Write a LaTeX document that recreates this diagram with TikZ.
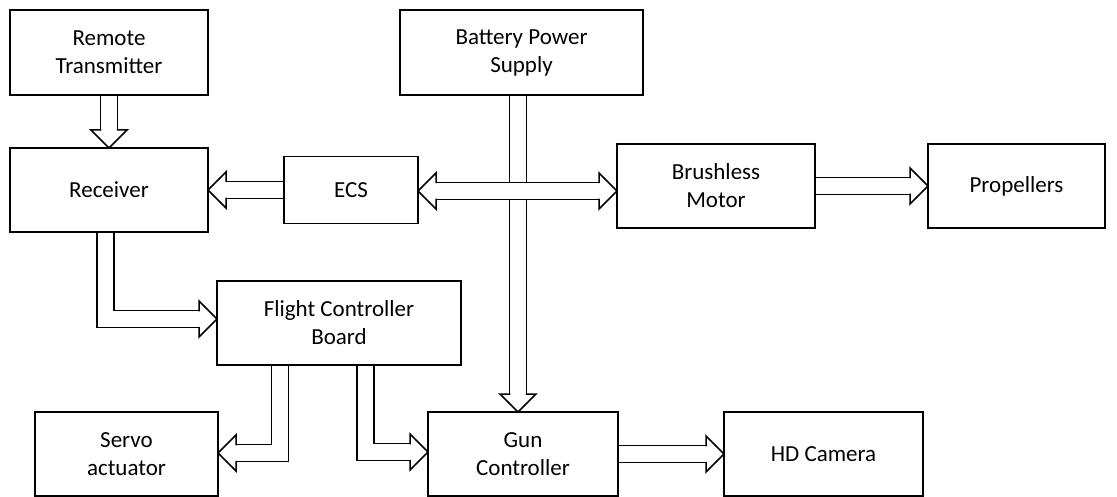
\documentclass[tikz,border=0pt]{standalone}
\usepackage{fontspec}
\setmainfont{Carlito}
\usepackage{tikz}
\usetikzlibrary{calc, backgrounds}

% hollow block arrows
\newcommand{\hlen}{18pt}
\newcommand{\blockshaft}[1]{%
  \draw[line width=18.5pt, line join=miter] #1;
  \draw[line width=15.5pt, white, line join=miter] #1;}
\newcommand{\blockhead}[2]{%
  \draw[fill=white, line width=1.5pt, line join=miter, shift={#1}, rotate=#2]
    (-\hlen,7.75pt) -- (-\hlen,18pt) -- (0,0) -- (-\hlen,-18pt) -- (-\hlen,-7.75pt);}

\begin{document}
\begin{tikzpicture}[
        x=1pt, y=1pt,
        box/.style={draw, line width=1.5pt, fill=white, rectangle, align=center, minimum height=84pt, inner sep=2pt, outer sep=0pt, font=\fontsize{23}{28}\selectfont}
    ]
        \useasboundingbox (0,0) rectangle (1117,-497);

        % Top row
        \node[box, minimum width=198pt, minimum height=85pt] (rt) at (109,-52.5) {Remote\\Transmitter};
        \node[box, minimum width=243pt, minimum height=85pt] (bps) at (521.5,-52.5) {Battery Power\\Supply};

        % Middle row
        \node[box, minimum width=198pt] (rcv) at (109,-190) {Receiver};
        \node[box, minimum width=134pt, minimum height=67pt] (ecs) at (351,-190) {ECS};
        \node[box, minimum width=198pt] (bm) at (716,-186) {Brushless\\Motor};
        \node[box, minimum width=177pt] (prop) at (1016.5,-186) {Propellers};

        % Flight controller
        \node[box, minimum width=244pt] (fcb) at (339,-323) {Flight Controller\\Board};

        % Bottom row
        \node[box, minimum width=183pt] (servo) at (126.5,-454) {Servo\\actuator};
        \node[box, minimum width=190pt] (gun) at (523,-454) {Gun\\Controller};
        \node[box, minimum width=199pt] (hd) at (823.5,-454) {HD Camera};

        \begin{scope}[on background layer]
            % Remote -> Receiver
            \blockshaft{(rt.south) -- ($(rcv.north)+(0,\hlen)$)}
            \blockhead{(rcv.north)}{-90}

            % ECS -> Receiver
            \blockshaft{(ecs.west) -- ($(rcv.east)+(\hlen,0)$)}
            \blockhead{(rcv.east)}{180}

            % Battery -> Gun controller
            \blockshaft{($(bps.south)+(-3.5,0)$) -- ($(bps.south |- gun.north)+(-3.5,\hlen)$)}
            \blockhead{($(bps.south |- gun.north)+(-3.5,0)$)}{-90}

            % ECS <-> Brushless motor
            \blockshaft{($(ecs.east)+(\hlen,-1)$) -- ($(ecs.east -| bm.west)+(-\hlen,-1)$)}
            \blockhead{($(ecs.east)+(0,-1)$)}{180}
            \blockhead{($(ecs.east -| bm.west)+(0,-1)$)}{0}

            % Brushless motor -> Propellers
            \blockshaft{(bm.east) -- ($(prop.west)+(-\hlen,0)$)}
            \blockhead{(prop.west)}{0}

            % Receiver -> Flight controller
            \blockshaft{($(rcv.south)+(-3.5,0)$) |- ($(fcb.west)+(-\hlen,4)$)}
            \blockhead{($(fcb.west)+(0,4)$)}{0}

            % Flight controller -> Servo / Gun
            \blockshaft{($(fcb.south)+(-59,0)$) |- ($(servo.east)+(\hlen,1)$)}
            \blockhead{($(servo.east)+(0,1)$)}{180}
            \blockshaft{($(fcb.south)+(26.5,0)$) |- ($(gun.west)+(-\hlen,2)$)}
            \blockhead{($(gun.west)+(0,2)$)}{0}

            % Gun controller -> HD camera
            \blockshaft{(gun.east) -- ($(hd.west)+(-\hlen,0)$)}
            \blockhead{(hd.west)}{0}
        \end{scope}

    \end{tikzpicture}
\end{document}
